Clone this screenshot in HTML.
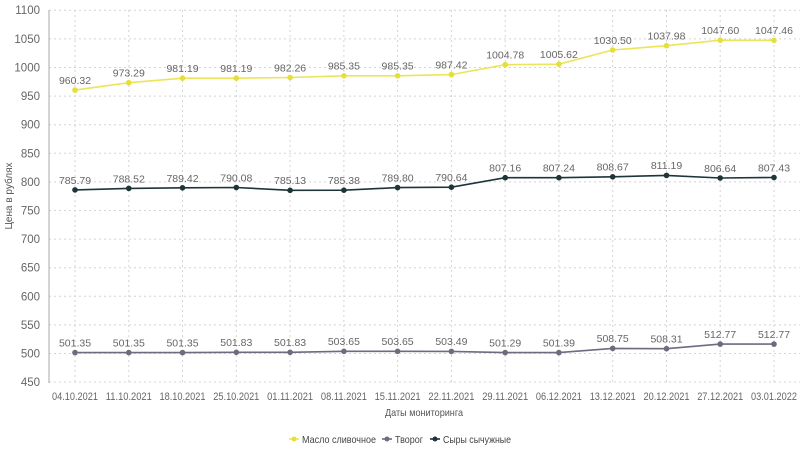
<!DOCTYPE html>
<html><head><meta charset="utf-8"><style>
html,body{margin:0;padding:0;background:#fff;}
svg{display:block;font-family:"Liberation Sans",sans-serif;}
.g{stroke:#d4d4d4;stroke-dasharray:2,3;stroke-width:1}
.yt{font-size:11.5px;fill:#666;text-anchor:end}
.xt{font-size:11px;fill:#666;text-anchor:middle}
.dl{font-size:10.5px;fill:#666;text-anchor:middle}
</style></head><body>
<svg width="800" height="450" viewBox="0 0 800 450">
<g class="g">
<line x1="49" x2="800" y1="10.3" y2="10.3"/><line x1="49" x2="800" y1="38.9" y2="38.9"/><line x1="49" x2="800" y1="67.5" y2="67.5"/><line x1="49" x2="800" y1="96.1" y2="96.1"/><line x1="49" x2="800" y1="124.7" y2="124.7"/><line x1="49" x2="800" y1="153.3" y2="153.3"/><line x1="49" x2="800" y1="181.9" y2="181.9"/><line x1="49" x2="800" y1="210.5" y2="210.5"/><line x1="49" x2="800" y1="239.1" y2="239.1"/><line x1="49" x2="800" y1="267.7" y2="267.7"/><line x1="49" x2="800" y1="296.3" y2="296.3"/><line x1="49" x2="800" y1="324.9" y2="324.9"/><line x1="49" x2="800" y1="353.5" y2="353.5"/><line x1="49" x2="800" y1="382" y2="382"/>
<line x1="75" x2="75" y1="10" y2="382"/><line x1="128.8" x2="128.8" y1="10" y2="382"/><line x1="182.5" x2="182.5" y1="10" y2="382"/><line x1="236.3" x2="236.3" y1="10" y2="382"/><line x1="290.1" x2="290.1" y1="10" y2="382"/><line x1="343.9" x2="343.9" y1="10" y2="382"/><line x1="397.6" x2="397.6" y1="10" y2="382"/><line x1="451.4" x2="451.4" y1="10" y2="382"/><line x1="505.2" x2="505.2" y1="10" y2="382"/><line x1="558.9" x2="558.9" y1="10" y2="382"/><line x1="612.7" x2="612.7" y1="10" y2="382"/><line x1="666.5" x2="666.5" y1="10" y2="382"/><line x1="720.2" x2="720.2" y1="10" y2="382"/><line x1="774" x2="774" y1="10" y2="382"/>
</g>
<line x1="49" x2="49" y1="10" y2="383" stroke="#aaa" stroke-width="1"/>
<g class="yt">
<text x="40" y="14">1100</text><text x="40" y="43">1050</text><text x="40" y="71.5">1000</text><text x="40" y="100">950</text><text x="40" y="128.7">900</text><text x="40" y="157.3">850</text><text x="40" y="186">800</text><text x="40" y="214.5">750</text><text x="40" y="243">700</text><text x="40" y="271.7">650</text><text x="40" y="300.3">600</text><text x="40" y="329">550</text><text x="40" y="357.5">500</text><text x="40" y="386">450</text>
</g>
<g class="xt">
<text x="75" y="400" textLength="46" lengthAdjust="spacingAndGlyphs">04.10.2021</text><text x="128.8" y="400" textLength="46" lengthAdjust="spacingAndGlyphs">11.10.2021</text><text x="182.5" y="400" textLength="46" lengthAdjust="spacingAndGlyphs">18.10.2021</text><text x="236.3" y="400" textLength="46" lengthAdjust="spacingAndGlyphs">25.10.2021</text><text x="290.1" y="400" textLength="46" lengthAdjust="spacingAndGlyphs">01.11.2021</text><text x="343.9" y="400" textLength="46" lengthAdjust="spacingAndGlyphs">08.11.2021</text><text x="397.6" y="400" textLength="46" lengthAdjust="spacingAndGlyphs">15.11.2021</text><text x="451.4" y="400" textLength="46" lengthAdjust="spacingAndGlyphs">22.11.2021</text><text x="505.2" y="400" textLength="46" lengthAdjust="spacingAndGlyphs">29.11.2021</text><text x="558.9" y="400" textLength="46" lengthAdjust="spacingAndGlyphs">06.12.2021</text><text x="612.7" y="400" textLength="46" lengthAdjust="spacingAndGlyphs">13.12.2021</text><text x="666.5" y="400" textLength="46" lengthAdjust="spacingAndGlyphs">20.12.2021</text><text x="720.2" y="400" textLength="46" lengthAdjust="spacingAndGlyphs">27.12.2021</text><text x="774" y="400" textLength="46" lengthAdjust="spacingAndGlyphs">03.01.2022</text>
</g>
<text x="385" y="416" font-size="10.5" fill="#555" textLength="78" lengthAdjust="spacingAndGlyphs">Даты мониторинга</text>
<text transform="translate(12,196) rotate(-90)" font-size="10" fill="#555" text-anchor="middle">Цена в рублях</text>

<polyline fill="none" stroke="#ebe55a" stroke-width="1.6" points="75,90.1 128.8,82.7 182.5,78.2 236.3,78.2 290.1,77.5 343.9,75.8 397.6,75.8 451.4,74.6 505.2,64.7 558.9,64.2 612.7,50 666.5,45.7 720.2,40.2 774,40.3"/>
<g fill="#e6df3a"><circle cx="75" cy="90.1" r="2.8"/><circle cx="128.8" cy="82.7" r="2.8"/><circle cx="182.5" cy="78.2" r="2.8"/><circle cx="236.3" cy="78.2" r="2.8"/><circle cx="290.1" cy="77.5" r="2.8"/><circle cx="343.9" cy="75.8" r="2.8"/><circle cx="397.6" cy="75.8" r="2.8"/><circle cx="451.4" cy="74.6" r="2.8"/><circle cx="505.2" cy="64.7" r="2.8"/><circle cx="558.9" cy="64.2" r="2.8"/><circle cx="612.7" cy="50" r="2.8"/><circle cx="666.5" cy="45.7" r="2.8"/><circle cx="720.2" cy="40.2" r="2.8"/><circle cx="774" cy="40.3" r="2.8"/></g>
<g class="dl"><text x="75" y="84">960.32</text><text x="128.8" y="76.5">973.29</text><text x="182.5" y="72">981.19</text><text x="236.3" y="72">981.19</text><text x="290.1" y="71.5">982.26</text><text x="343.9" y="69.5">985.35</text><text x="397.6" y="69.5">985.35</text><text x="451.4" y="68.5">987.42</text><text x="505.2" y="58.5">1004.78</text><text x="558.9" y="58">1005.62</text><text x="612.7" y="44">1030.50</text><text x="666.5" y="39.5">1037.98</text><text x="720.2" y="34">1047.60</text><text x="774" y="34">1047.46</text></g>

<polyline fill="none" stroke="#1d3538" stroke-width="1.6" points="75,189.9 128.8,188.4 182.5,187.8 236.3,187.5 290.1,190.3 343.9,190.2 397.6,187.6 451.4,187.2 505.2,177.7 558.9,177.7 612.7,176.8 666.5,175.4 720.2,178 774,177.5"/>
<g fill="#1d3538"><circle cx="75" cy="189.9" r="2.8"/><circle cx="128.8" cy="188.4" r="2.8"/><circle cx="182.5" cy="187.8" r="2.8"/><circle cx="236.3" cy="187.5" r="2.8"/><circle cx="290.1" cy="190.3" r="2.8"/><circle cx="343.9" cy="190.2" r="2.8"/><circle cx="397.6" cy="187.6" r="2.8"/><circle cx="451.4" cy="187.2" r="2.8"/><circle cx="505.2" cy="177.7" r="2.8"/><circle cx="558.9" cy="177.7" r="2.8"/><circle cx="612.7" cy="176.8" r="2.8"/><circle cx="666.5" cy="175.4" r="2.8"/><circle cx="720.2" cy="178" r="2.8"/><circle cx="774" cy="177.5" r="2.8"/></g>
<g class="dl"><text x="75" y="184">785.79</text><text x="128.8" y="182.5">788.52</text><text x="182.5" y="182">789.42</text><text x="236.3" y="181.5">790.08</text><text x="290.1" y="184">785.13</text><text x="343.9" y="184">785.38</text><text x="397.6" y="181.5">789.80</text><text x="451.4" y="181">790.64</text><text x="505.2" y="171.5">807.16</text><text x="558.9" y="171.5">807.24</text><text x="612.7" y="170.5">808.67</text><text x="666.5" y="169">811.19</text><text x="720.2" y="172">806.64</text><text x="774" y="171.5">807.43</text></g>

<polyline fill="none" stroke="#6e6a80" stroke-width="1.6" points="75,352.6 128.8,352.6 182.5,352.6 236.3,352.3 290.1,352.3 343.9,351.3 397.6,351.3 451.4,351.4 505.2,352.6 558.9,352.6 612.7,348.4 666.5,348.7 720.2,344.1 774,344.1"/>
<g fill="#6e6a80"><circle cx="75" cy="352.6" r="2.8"/><circle cx="128.8" cy="352.6" r="2.8"/><circle cx="182.5" cy="352.6" r="2.8"/><circle cx="236.3" cy="352.3" r="2.8"/><circle cx="290.1" cy="352.3" r="2.8"/><circle cx="343.9" cy="351.3" r="2.8"/><circle cx="397.6" cy="351.3" r="2.8"/><circle cx="451.4" cy="351.4" r="2.8"/><circle cx="505.2" cy="352.6" r="2.8"/><circle cx="558.9" cy="352.6" r="2.8"/><circle cx="612.7" cy="348.4" r="2.8"/><circle cx="666.5" cy="348.7" r="2.8"/><circle cx="720.2" cy="344.1" r="2.8"/><circle cx="774" cy="344.1" r="2.8"/></g>
<g class="dl"><text x="75" y="346.5">501.35</text><text x="128.8" y="346.5">501.35</text><text x="182.5" y="346.5">501.35</text><text x="236.3" y="346">501.83</text><text x="290.1" y="346">501.83</text><text x="343.9" y="345">503.65</text><text x="397.6" y="345">503.65</text><text x="451.4" y="345">503.49</text><text x="505.2" y="346.5">501.29</text><text x="558.9" y="346.5">501.39</text><text x="612.7" y="342">508.75</text><text x="666.5" y="342.5">508.31</text><text x="720.2" y="338">512.77</text><text x="774" y="338">512.77</text></g>

<g font-size="10.5" fill="#444">
<line x1="289" x2="299" y1="439" y2="439" stroke="#ebe55a" stroke-width="1.6"/><circle cx="294" cy="439" r="2.5" fill="#e6df3a"/>
<text x="302" y="443" textLength="74" lengthAdjust="spacingAndGlyphs">Масло сливочное</text>
<line x1="382" x2="392" y1="439" y2="439" stroke="#6e6a80" stroke-width="1.6"/><circle cx="387" cy="439" r="2.5" fill="#6e6a80"/>
<text x="395" y="443" font-size="10" textLength="28" lengthAdjust="spacingAndGlyphs">Творог</text>
<line x1="430" x2="440" y1="439" y2="439" stroke="#1d3538" stroke-width="1.6"/><circle cx="435" cy="439" r="2.5" fill="#1d3538"/>
<text x="443" y="443" textLength="68" lengthAdjust="spacingAndGlyphs">Сыры сычужные</text>
</g>
</svg>
</body></html>
